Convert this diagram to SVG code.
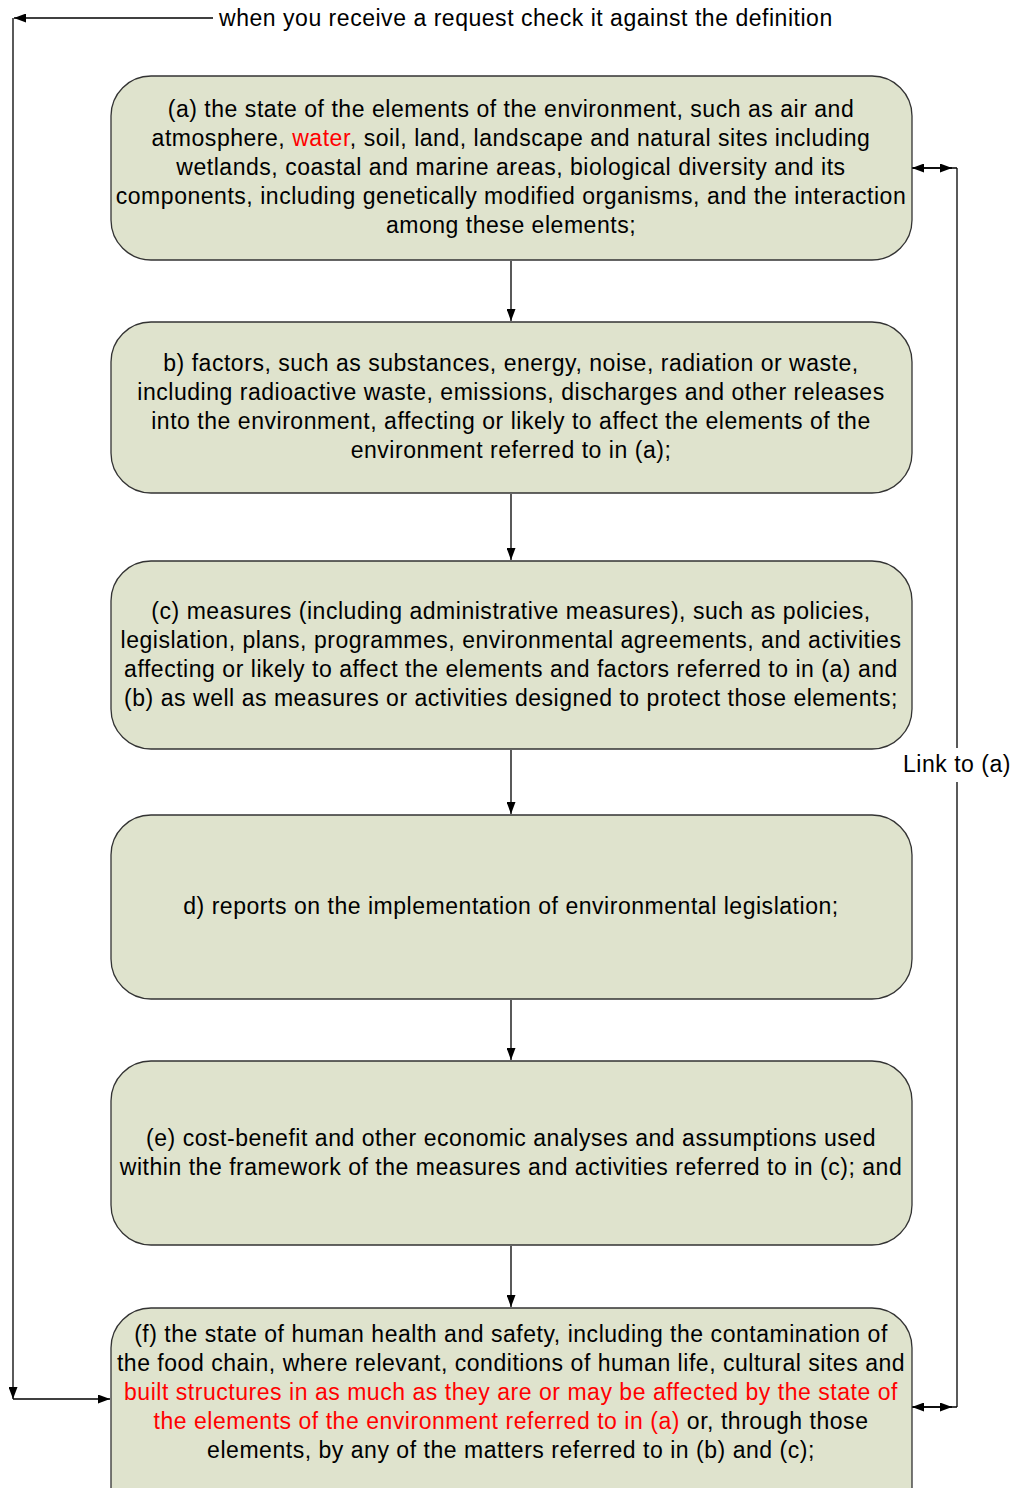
<svg xmlns="http://www.w3.org/2000/svg" width="1013" height="1488" viewBox="0 0 1013 1488">
<defs>
<marker id="arr" viewBox="0 0 12 9" refX="12" refY="4.5" markerWidth="12" markerHeight="9" markerUnits="userSpaceOnUse" orient="auto-start-reverse">
<path d="M0,0 L12,4.5 L0,9 Z" fill="#000"/>
</marker>
</defs>
<style>
.box{fill:#dfe3cd;stroke:#333;stroke-width:1.3}
.t{font-family:"Liberation Sans",Arial,sans-serif;font-size:23px;letter-spacing:0.53px;fill:#000;text-anchor:middle}
.r{fill:#ff0000}
.c{fill:none;stroke:#000;stroke-width:1.3}
</style>
<rect width="1013" height="1488" fill="#fff"/>
<g id="connectors">
<line class="c" x1="511" y1="261" x2="511" y2="321" marker-end="url(#arr)"/>
<line class="c" x1="511" y1="494" x2="511" y2="560" marker-end="url(#arr)"/>
<line class="c" x1="511" y1="750" x2="511" y2="814" marker-end="url(#arr)"/>
<line class="c" x1="511" y1="1000" x2="511" y2="1060" marker-end="url(#arr)"/>
<line class="c" x1="511" y1="1246" x2="511" y2="1307" marker-end="url(#arr)"/>
<line class="c" x1="213" y1="18" x2="14" y2="18" marker-end="url(#arr)"/>
<line class="c" x1="13" y1="18" x2="13" y2="1399" marker-end="url(#arr)"/>
<line class="c" x1="13" y1="1399" x2="110" y2="1399" marker-end="url(#arr)"/>
<line class="c" x1="957" y1="168" x2="912" y2="168" marker-end="url(#arr)"/>
<line class="c" x1="912" y1="168" x2="952" y2="168" marker-end="url(#arr)"/>
<line class="c" x1="957" y1="1407" x2="912" y2="1407" marker-end="url(#arr)"/>
<line class="c" x1="912" y1="1407" x2="952" y2="1407" marker-end="url(#arr)"/>
<line class="c" x1="957" y1="168" x2="957" y2="748"/>
<line class="c" x1="957" y1="782" x2="957" y2="1407"/>
<text class="t" x="957" y="772">Link to (a)</text>
<text class="t" x="219" y="26" style="text-anchor:start">when you receive a request check it against the definition</text>
</g>
<g id="node-a">
<rect class="box" x="111" y="76" width="801" height="184" rx="40" ry="40"/>
<text class="t" x="511" y="117">(a) the state of the elements of the environment, such as air and</text>
<text class="t" x="511" y="146">atmosphere, <tspan class="r">water</tspan>, soil, land, landscape and natural sites including</text>
<text class="t" x="511" y="175">wetlands, coastal and marine areas, biological diversity and its</text>
<text class="t" x="511" y="204">components, including genetically modified organisms, and the interaction</text>
<text class="t" x="511" y="233">among these elements;</text>
</g>
<g id="node-b">
<rect class="box" x="111" y="322" width="801" height="171" rx="40" ry="40"/>
<text class="t" x="511" y="371">b) factors, such as substances, energy, noise, radiation or waste,</text>
<text class="t" x="511" y="400">including radioactive waste, emissions, discharges and other releases</text>
<text class="t" x="511" y="429">into the environment, affecting or likely to affect the elements of the</text>
<text class="t" x="511" y="458">environment referred to in (a);</text>
</g>
<g id="node-c">
<rect class="box" x="111" y="561" width="801" height="188" rx="40" ry="40"/>
<text class="t" x="511" y="619">(c) measures (including administrative measures), such as policies,</text>
<text class="t" x="511" y="648">legislation, plans, programmes, environmental agreements, and activities</text>
<text class="t" x="511" y="677">affecting or likely to affect the elements and factors referred to in (a) and</text>
<text class="t" x="511" y="706">(b) as well as measures or activities designed to protect those elements;</text>
</g>
<g id="node-d">
<rect class="box" x="111" y="815" width="801" height="184" rx="40" ry="40"/>
<text class="t" x="511" y="914">d) reports on the implementation of environmental legislation;</text>
</g>
<g id="node-e">
<rect class="box" x="111" y="1061" width="801" height="184" rx="40" ry="40"/>
<text class="t" x="511" y="1146">(e) cost-benefit and other economic analyses and assumptions used</text>
<text class="t" x="511" y="1175">within the framework of the measures and activities referred to in (c); and</text>
</g>
<g id="node-f">
<rect class="box" x="111" y="1308" width="801" height="220" rx="40" ry="40"/>
<text class="t" x="511" y="1342">(f) the state of human health and safety, including the contamination of</text>
<text class="t" x="511" y="1371">the food chain, where relevant, conditions of human life, cultural sites and</text>
<text class="t r" x="511" y="1400">built structures in as much as they are or may be affected by the state of</text>
<text class="t" x="511" y="1429"><tspan class="r">the elements of the environment referred to in (a)</tspan> or, through those</text>
<text class="t" x="511" y="1458">elements, by any of the matters referred to in (b) and (c);</text>
</g>
</svg>
